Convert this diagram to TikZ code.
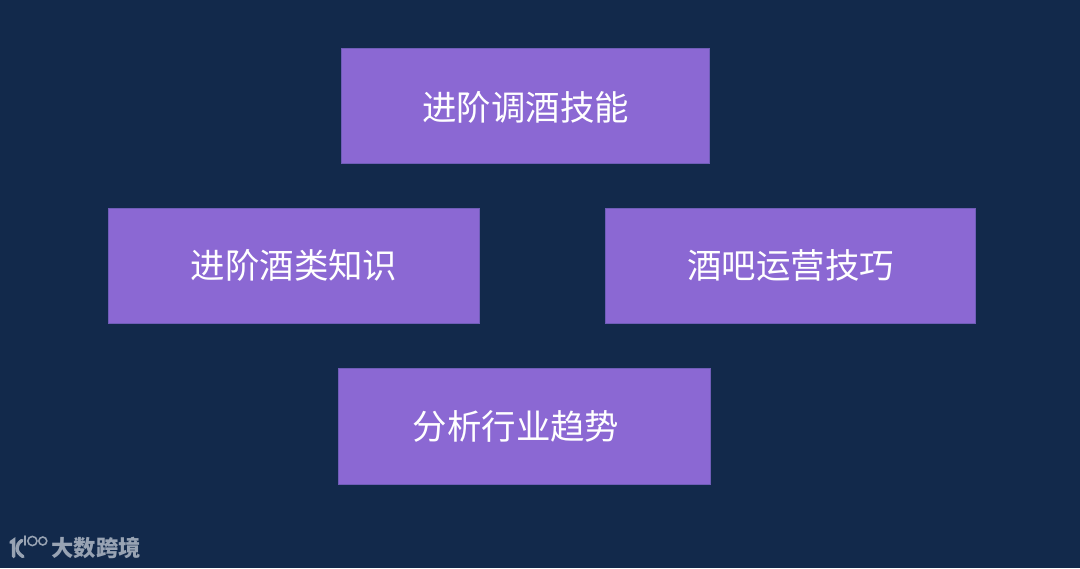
\documentclass[tikz,border=0pt]{standalone}
\usepackage{fontspec}
\setmainfont{Noto Sans CJK SC}
\usepackage{tikz}
\usetikzlibrary{positioning}
\definecolor{bgblue}{HTML}{12294B}
\definecolor{boxpurple}{HTML}{8B68D3}
\definecolor{boxedge}{HTML}{6F5DB8}
\definecolor{logogray}{HTML}{98A3B3}
\tikzset{
    skillbox/.style={draw=boxedge, fill=boxpurple, text=white, line width=.5pt, inner sep=0pt,
        font=\fontsize{24.5}{24.5}\selectfont},
    logotext/.style={text=logogray, inner sep=0pt, font=\fontsize{15.9}{15.9}\selectfont\bfseries},
    logoline/.style={draw=logogray, line width=2.4pt, line cap=round},
    logothin/.style={draw=logogray, line width=1.1pt, line cap=round}
}

\begin{document}
\begin{tikzpicture}
    \fill[bgblue](0,0)rectangle(27,14.2);
    \useasboundingbox(0,0)rectangle(27,14.2);

    \node[skillbox, minimum width=9.2cm, minimum height=2.88cm, text height=.76cm, text depth=0pt](skills)at(13.14,11.56){进阶调酒技能};
    \node[skillbox, minimum width=9.27cm, minimum height=2.88cm](knowledge)at(7.35,7.56){进阶酒类知识};
    \node[skillbox, minimum width=9.25cm, minimum height=2.88cm](operation)at(19.77,7.56){酒吧运营技巧};
    \node[skillbox, minimum width=9.3cm, minimum height=2.9cm](trends)at(13.1,3.55){分析行业趋势\kern.4cm};

    \node[logotext](brand)at(2.4,.49){大数跨境};

    % logo
    \draw[logoline](.27,.64)--(.34,.69)--(.34,.285);
    \draw[logoline](.55,.69)..controls(.38,.58)and(.38,.40)..(.575,.285);
    \draw[logothin](.625,.80)--(.625,.575);
    \draw[logothin](.81,.675)circle(.115);
    \draw[logothin](1.07,.675)circle(.1);
\end{tikzpicture}
\end{document}
